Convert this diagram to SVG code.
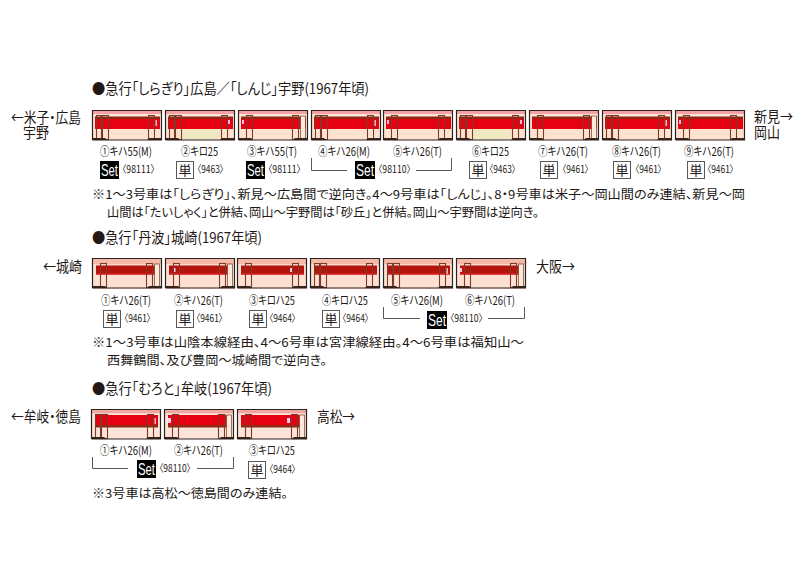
<svg xmlns="http://www.w3.org/2000/svg" width="805" height="575" viewBox="0 0 805 575">
<style>
text{font-family:"Noto Sans CJK JP","Liberation Sans",sans-serif;fill:#231815;font-feature-settings:"palt"}
.t{font-size:14.5px}.n{font-size:12.4px}.l{font-size:12px}.s{font-size:10.5px}
.set{font-family:"Liberation Sans",sans-serif;font-size:17px;fill:#fff}
.tan{font-size:13px;text-anchor:middle}
.box{fill:#fff;stroke:#595757;stroke-width:1}
.br{fill:none;stroke:#595757;stroke-width:1}
.door{fill:none;stroke:#7a3b28;stroke-width:1.1}
.frame{fill:none;stroke:#2b2320;stroke-width:1.2}
.under{fill:#3a2418}
</style>
<defs>
<g id="base1">
<rect width="70" height="30" fill="#fde3cf"/>
<rect y="1" width="70" height="3" fill="#f4a0a4"/>
<rect y="4" width="70" height="2.500" fill="#fce6dc"/>
<rect x="3" y="6.500" width="65" height="2.500" fill="#8c2a14"/>
<rect x="3" y="9" width="65" height="10" fill="#e60012"/>
</g>
<g id="base2">
<rect width="70" height="31" fill="#fde0d2"/>
<rect y="1" width="70" height="5" fill="#f5b9a8"/>
<rect y="6" width="70" height="1.500" fill="#fbd8cc"/>
<rect x="4" y="7.500" width="63" height="9" fill="#b5140c"/>
<rect x="4" y="15.500" width="63" height="1.200" fill="#e8262a"/>
</g>
<g id="base3">
<rect width="70" height="30" fill="#fde3d8"/>
<rect y="1" width="70" height="3.500" fill="#f0a8a0"/>
<rect y="4.500" width="70" height="1.500" fill="#fbe2d8"/>
<rect x="4" y="6" width="63" height="10" fill="#e60012"/>
<rect x="4" y="16" width="63" height="2.500" fill="#8c2a14"/>
</g>
<g id="frame">
<path class="under" d="M1 28h12l2 2H1zM69 28H57l-2 2h14z"/>
<path class="frame" d="M0.500 30V0.500H69.500V30H0.500"/>
</g>
<g id="doorsA">
<rect class="door" x="4.500" y="5.500" width="5" height="24"/>
<rect class="door" x="10.500" y="5.500" width="6" height="24"/>
<rect class="door" x="56.500" y="5.500" width="6" height="24"/>
</g>
<g id="doorsB">
<rect class="door" x="8.500" y="5.500" width="6" height="24"/>
<rect class="door" x="54.500" y="5.500" width="6" height="24"/>
<rect x="62.500" y="6" width="5" height="23" fill="#fde9da" stroke="#7a3b28" stroke-width=".7"/>
</g>
<g id="doorsC">
<rect class="door" x="8.500" y="5.500" width="6" height="24"/>
<rect class="door" x="55.500" y="5.500" width="6" height="24"/>
</g>
</defs>

<g id="titles">
<text class="t" x="92" y="94" textLength="277" lengthAdjust="spacingAndGlyphs">●急行「しらぎり」広島／「しんじ」宇野(1967年頃)</text>
<text class="t" x="92" y="243" textLength="170" lengthAdjust="spacingAndGlyphs">●急行「丹波」城崎(1967年頃)</text>
<text class="t" x="92" y="394" textLength="180" lengthAdjust="spacingAndGlyphs">●急行「むろと」牟岐(1967年頃)</text>
</g>

<g id="places">
<text class="t" x="11" y="123" textLength="70" lengthAdjust="spacingAndGlyphs">←米子・広島</text>
<text class="t" x="23" y="138" textLength="26" lengthAdjust="spacingAndGlyphs">宇野</text>
<text class="t" x="754" y="122" textLength="39" lengthAdjust="spacingAndGlyphs">新見→</text>
<text class="t" x="754" y="138" textLength="26" lengthAdjust="spacingAndGlyphs">岡山</text>
<text class="t" x="43" y="272" textLength="39" lengthAdjust="spacingAndGlyphs">←城崎</text>
<text class="t" x="536" y="272" textLength="39" lengthAdjust="spacingAndGlyphs">大阪→</text>
<text class="t" x="11" y="422" textLength="70" lengthAdjust="spacingAndGlyphs">←牟岐・徳島</text>
<text class="t" x="317" y="422" textLength="38" lengthAdjust="spacingAndGlyphs">高松→</text>
</g>

<g id="row1-cars">
<g id="r1c1" transform="translate(92 110)"><use href="#base1"/><use href="#doorsA"/><rect x="63.500" y="10" width="1.500" height="6" fill="#f7b8c8"/><use href="#frame"/></g>
<g id="r1c2" transform="translate(165 110)"><use href="#base1"/><rect y="19" x="16" width="38" height="10" fill="#f0e8c0"/><use href="#doorsA"/><rect x="63" y="10" width="2" height="4" fill="#fbe"/><use href="#frame"/></g>
<g id="r1c3" transform="translate(238 110)"><use href="#base1"/><rect x="4" y="10" width="2" height="4" fill="#fbe"/><use href="#doorsB"/><use href="#frame"/></g>
<g id="r1c4" transform="translate(311 110)"><use href="#base1"/><use href="#doorsA"/><rect x="63.500" y="10" width="1.500" height="6" fill="#f7b8c8"/><use href="#frame"/></g>
<g id="r1c5" transform="translate(383 110)"><use href="#base1"/><rect x="4" y="10" width="2" height="4" fill="#fbe"/><use href="#doorsC"/><use href="#frame"/></g>
<g id="r1c6" transform="translate(456 110)"><use href="#base1"/><rect y="19" x="16" width="38" height="10" fill="#f0e8c0"/><use href="#doorsA"/><rect x="64" y="10" width="2" height="4" fill="#fbe"/><use href="#frame"/></g>
<g id="r1c7" transform="translate(529 110)"><use href="#base1"/><use href="#doorsB"/><use href="#frame"/></g>
<g id="r1c8" transform="translate(602 110)"><use href="#base1"/><use href="#doorsA"/><rect x="63.500" y="10" width="1.500" height="6" fill="#f7c8c8"/><use href="#frame"/></g>
<g id="r1c9" transform="translate(675 110)"><use href="#base1"/><rect x="4" y="10" width="2" height="4" fill="#fbe"/><use href="#doorsC"/><use href="#frame"/></g>
</g>

<g id="row2-cars">
<g id="r2c1" transform="translate(92 258)"><use href="#base2"/><use href="#doorsB"/><use href="#frame"/></g>
<g id="r2c2" transform="translate(165 258)"><use href="#base2"/><rect x="8" y="10" width="2.500" height="4" fill="#fce"/><use href="#doorsB"/><use href="#frame"/></g>
<g id="r2c3" transform="translate(237 258)"><use href="#base2"/><use href="#doorsC"/><rect x="53" y="10" width="2" height="4" fill="#fce"/><use href="#frame"/></g>
<g id="r2c4" transform="translate(310 258)"><use href="#base2"/><use href="#doorsA"/><use href="#frame"/></g>
<g id="r2c5" transform="translate(383 258)"><use href="#base2"/><use href="#doorsA"/><rect x="63.500" y="10" width="1.500" height="6" fill="#f7b8c8"/><use href="#frame"/></g>
<g id="r2c6" transform="translate(456 258)"><use href="#base2"/><rect x="4" y="10" width="2" height="4" fill="#fce"/><use href="#doorsB"/><use href="#frame"/></g>
</g>

<g id="row3-cars">
<g id="r3c1" transform="translate(91 409)"><use href="#base3"/><use href="#doorsA"/><rect x="63.500" y="9" width="1.500" height="6" fill="#f7b8c8"/><use href="#frame"/></g>
<g id="r3c2" transform="translate(164 409)"><use href="#base3"/><rect x="4" y="9" width="3" height="5" fill="#fce"/><use href="#doorsB"/><use href="#frame"/></g>
<g id="r3c3" transform="translate(237 409)"><use href="#base3"/><use href="#doorsB"/><rect x="50" y="9" width="3" height="5" fill="#fce"/><use href="#frame"/></g>
</g>

<g id="row1-labels">
<text class="l" x="100" y="156" textLength="52" lengthAdjust="spacingAndGlyphs">①キハ55(M)</text>
<text class="l" x="181" y="156" textLength="37" lengthAdjust="spacingAndGlyphs">②キロ25</text>
<text class="l" x="247" y="156" textLength="50" lengthAdjust="spacingAndGlyphs">③キハ55(T)</text>
<text class="l" x="318" y="156" textLength="52" lengthAdjust="spacingAndGlyphs">④キハ26(M)</text>
<text class="l" x="393" y="156" textLength="49" lengthAdjust="spacingAndGlyphs">⑤キハ26(T)</text>
<text class="l" x="472" y="156" textLength="37" lengthAdjust="spacingAndGlyphs">⑥キロ25</text>
<text class="l" x="538" y="156" textLength="50" lengthAdjust="spacingAndGlyphs">⑦キハ26(T)</text>
<text class="l" x="612" y="156" textLength="49" lengthAdjust="spacingAndGlyphs">⑧キハ26(T)</text>
<text class="l" x="684" y="156" textLength="50" lengthAdjust="spacingAndGlyphs">⑨キハ26(T)</text>
</g>

<g id="row1-sets">
<rect x="100" y="161" width="19" height="18" fill="#000"/><text class="set" x="101" y="176" textLength="17" lengthAdjust="spacingAndGlyphs">Set</text>
<text class="s" x="122" y="173" textLength="33" lengthAdjust="spacingAndGlyphs">〈98111〉</text>
<rect class="box" x="176.500" y="161.500" width="17" height="17"/><text class="tan" x="185" y="175">単</text>
<text class="s" x="197" y="173" textLength="27" lengthAdjust="spacingAndGlyphs">〈9463〉</text>
<rect x="246" y="161" width="19" height="18" fill="#000"/><text class="set" x="247" y="176" textLength="17" lengthAdjust="spacingAndGlyphs">Set</text>
<text class="s" x="268" y="173" textLength="33" lengthAdjust="spacingAndGlyphs">〈98111〉</text>
<path class="br" d="M311.500 158V170.500H347"/><path class="br" d="M416 170.500H451.500V158"/>
<rect x="355" y="161" width="20" height="18" fill="#000"/><text class="set" x="356" y="176" textLength="18" lengthAdjust="spacingAndGlyphs">Set</text>
<text class="s" x="378" y="173" textLength="33" lengthAdjust="spacingAndGlyphs">〈98110〉</text>
<rect class="box" x="469.500" y="161.500" width="17" height="17"/><text class="tan" x="478" y="175">単</text>
<text class="s" x="489" y="173" textLength="27" lengthAdjust="spacingAndGlyphs">〈9463〉</text>
<rect class="box" x="540.500" y="161.500" width="17" height="17"/><text class="tan" x="549" y="175">単</text>
<text class="s" x="562" y="173" textLength="27" lengthAdjust="spacingAndGlyphs">〈9461〉</text>
<rect class="box" x="613.500" y="161.500" width="17" height="17"/><text class="tan" x="622" y="175">単</text>
<text class="s" x="635" y="173" textLength="27" lengthAdjust="spacingAndGlyphs">〈9461〉</text>
<rect class="box" x="687.500" y="161.500" width="17" height="17"/><text class="tan" x="696" y="175">単</text>
<text class="s" x="707" y="173" textLength="27" lengthAdjust="spacingAndGlyphs">〈9461〉</text>
</g>

<g id="row2-labels">
<text class="l" x="101" y="305" textLength="50" lengthAdjust="spacingAndGlyphs">①キハ26(T)</text>
<text class="l" x="174" y="305" textLength="49" lengthAdjust="spacingAndGlyphs">②キハ26(T)</text>
<text class="l" x="249" y="305" textLength="46" lengthAdjust="spacingAndGlyphs">③キロハ25</text>
<text class="l" x="322" y="305" textLength="46" lengthAdjust="spacingAndGlyphs">④キロハ25</text>
<text class="l" x="391" y="305" textLength="52" lengthAdjust="spacingAndGlyphs">⑤キハ26(M)</text>
<text class="l" x="465" y="305" textLength="50" lengthAdjust="spacingAndGlyphs">⑥キハ26(T)</text>
</g>
<g id="row2-sets">
<rect class="box" x="103.500" y="310.500" width="17" height="17"/><text class="tan" x="112" y="324">単</text>
<text class="s" x="124" y="322" textLength="27" lengthAdjust="spacingAndGlyphs">〈9461〉</text>
<rect class="box" x="176.500" y="310.500" width="17" height="17"/><text class="tan" x="185" y="324">単</text>
<text class="s" x="196" y="322" textLength="27" lengthAdjust="spacingAndGlyphs">〈9461〉</text>
<rect class="box" x="249.500" y="310.500" width="17" height="17"/><text class="tan" x="258" y="324">単</text>
<text class="s" x="269" y="322" textLength="27" lengthAdjust="spacingAndGlyphs">〈9464〉</text>
<rect class="box" x="322.500" y="310.500" width="17" height="17"/><text class="tan" x="331" y="324">単</text>
<text class="s" x="342" y="322" textLength="27" lengthAdjust="spacingAndGlyphs">〈9464〉</text>
<path class="br" d="M383.500 307V318.500H420"/><path class="br" d="M488 318.500H524.500V307"/>
<rect x="427" y="311" width="20" height="18" fill="#000"/><text class="set" x="428" y="326" textLength="18" lengthAdjust="spacingAndGlyphs">Set</text>
<text class="s" x="450" y="322" textLength="33" lengthAdjust="spacingAndGlyphs">〈98110〉</text>
</g>

<g id="row3-labels">
<text class="l" x="100" y="455" textLength="52" lengthAdjust="spacingAndGlyphs">①キハ26(M)</text>
<text class="l" x="174" y="455" textLength="49" lengthAdjust="spacingAndGlyphs">②キハ26(T)</text>
<text class="l" x="249" y="455" textLength="46" lengthAdjust="spacingAndGlyphs">③キロハ25</text>
</g>
<g id="row3-sets">
<path class="br" d="M92.500 457V468.500H128"/><path class="br" d="M197 468.500H233.500V457"/>
<rect x="137" y="460" width="19" height="18" fill="#000"/><text class="set" x="138" y="475" textLength="17" lengthAdjust="spacingAndGlyphs">Set</text>
<text class="s" x="159" y="472" textLength="32" lengthAdjust="spacingAndGlyphs">〈98110〉</text>
<rect class="box" x="248.500" y="461.500" width="17" height="17"/><text class="tan" x="257" y="475">単</text>
<text class="s" x="269" y="473" textLength="27" lengthAdjust="spacingAndGlyphs">〈9464〉</text>
</g>

<g id="notes">
<text class="n" x="92" y="199" textLength="653" lengthAdjust="spacingAndGlyphs">※1～3号車は「しらぎり」、新見～広島間で逆向き。4～9号車は「しんじ」、8・9号車は米子～岡山間のみ連結、新見～岡</text>
<text class="n" x="107" y="217" textLength="432" lengthAdjust="spacingAndGlyphs">山間は「たいしゃく」と併結、岡山～宇野間は「砂丘」と併結。岡山～宇野間は逆向き。</text>
<text class="n" x="92" y="347" textLength="432" lengthAdjust="spacingAndGlyphs">※1～3号車は山陰本線経由、4～6号車は宮津線経由。4～6号車は福知山～</text>
<text class="n" x="107" y="365" textLength="220" lengthAdjust="spacingAndGlyphs">西舞鶴間、及び豊岡～城崎間で逆向き。</text>
<text class="n" x="92" y="498" textLength="196" lengthAdjust="spacingAndGlyphs">※3号車は高松～徳島間のみ連結。</text>
</g>
</svg>
